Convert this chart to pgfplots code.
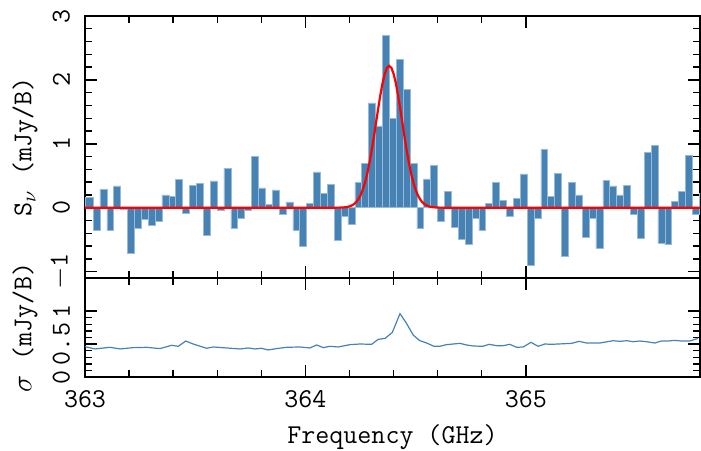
\documentclass[border=0pt]{standalone}
\usepackage{fontspec}
\usepackage{pgfplots}
\pgfplotsset{compat=1.18}
\definecolor{steel}{RGB}{70,130,180}
\newcommand{\tfont}{\fontsize{13.6}{16}\selectfont\ttfamily}
\begin{document}
\begin{tikzpicture}
\pgfplotsset{
  every axis/.append style={
    scale only axis, width=307.5pt, xmin=363, xmax=365.79,
    enlargelimits=false,
    axis line style={line width=0.9pt},
    major tick length=6pt, minor tick length=3.3pt,
    every tick/.style={black, line width=0.7pt},
    xtick={363,364,365}, minor x tick num=4, minor y tick num=4,
    yticklabel style={rotate=90, anchor=south, yshift=4pt, font=\tfont},
    xticklabel style={yshift=-3pt, font=\tfont},
    every axis y label/.style={at={(axis description cs:0,0.5)}, xshift=-30pt, rotate=90, anchor=center, font=\tfont},
    every axis x label/.style={at={(axis description cs:0.5,0)}, yshift=-30pt, anchor=center, font=\tfont},
  }
}
\begin{axis}[at={(0,0)}, anchor=south west, height=49.5pt,
  ymin=0, ymax=1.5, ytick={0,0.5,1}, yticklabels={0,0.5,1},
  xticklabels={363,364,365},
  xlabel={Frequency (GHz)}, ylabel={$\sigma$ (mJy/B)}]
\addplot[steel, line width=0.6pt] coordinates {
(363.000,0.46) (363.045,0.425) (363.113,0.45) (363.159,0.425) (363.219,0.445) (363.280,0.45) (363.340,0.43) (363.393,0.48) (363.423,0.465) (363.457,0.545) (363.491,0.50) (363.552,0.435) (363.582,0.455) (363.643,0.44) (363.703,0.425) (363.741,0.44) (363.771,0.425) (363.801,0.435) (363.831,0.41) (363.869,0.43) (363.915,0.45) (363.975,0.455) (364.020,0.44) (364.051,0.485) (364.081,0.445) (364.111,0.465) (364.149,0.455) (364.202,0.49) (364.247,0.50) (364.300,0.495) (364.330,0.57) (364.361,0.585) (364.394,0.675) (364.429,0.96) (364.459,0.81) (364.489,0.635) (364.519,0.55) (364.550,0.515) (364.583,0.465) (364.610,0.465) (364.640,0.49) (364.701,0.51) (364.731,0.485) (364.761,0.47) (364.804,0.465) (364.834,0.495) (364.867,0.475) (364.897,0.475) (364.927,0.495) (364.958,0.45) (364.988,0.455) (365.023,0.525) (365.056,0.465) (365.086,0.50) (365.116,0.495) (365.147,0.50) (365.207,0.51) (365.242,0.54) (365.275,0.515) (365.336,0.515) (365.396,0.55) (365.426,0.54) (365.457,0.55) (365.487,0.535) (365.517,0.545) (365.547,0.535) (365.585,0.515) (365.615,0.545) (365.645,0.545) (365.676,0.555) (365.706,0.545) (365.744,0.545) (365.781,0.585)
};
\end{axis}
\begin{axis}[at={(0,49.5pt)}, anchor=south west, height=131pt,
  ymin=-1.1, ymax=3, ytick={-1,0,1,2,3}, yticklabels={$-$1,0,1,2,3},
  xticklabels={},
  ylabel={S$_\nu$ (mJy/B)}]
\addplot[ybar interval, fill=steel, draw=steel!55!white, line width=0.3pt] coordinates {
(363.0000,0.16) (363.0368,-0.36) (363.0680,0.29) (363.0993,-0.36) (363.1305,0.34) (363.1618,-0.03) (363.1930,-0.72) (363.2243,-0.33) (363.2555,-0.18) (363.2868,-0.28)
(363.3180,-0.21) (363.3493,0.20) (363.3805,0.18) (363.4118,0.44) (363.4430,-0.09) (363.4743,0.35) (363.5055,0.38) (363.5368,-0.43) (363.5680,0.42) (363.5993,-0.04)
(363.6305,0.61) (363.6618,-0.33) (363.6930,-0.17) (363.7243,-0.04) (363.7555,0.80) (363.7868,0.31) (363.8180,0.05) (363.8493,0.28) (363.8805,-0.11) (363.9118,0.09)
(363.9430,-0.35) (363.9743,-0.61) (364.0055,0.07) (364.0368,0.56) (364.0680,0.22) (364.0993,0.36) (364.1305,-0.51) (364.1618,-0.14) (364.1930,-0.26) (364.2243,0.39)
(364.2555,0.69) (364.2868,1.64) (364.3180,1.28) (364.3493,2.70) (364.3805,1.40) (364.4118,2.32) (364.4430,1.85) (364.4743,0.69) (364.5055,-0.33) (364.5368,0.45)
(364.5680,0.66) (364.5993,-0.22) (364.6305,0.26) (364.6618,-0.30) (364.6930,-0.49) (364.7243,-0.57) (364.7555,-0.17) (364.7868,-0.36) (364.8180,0.07) (364.8493,0.39)
(364.8805,0.12) (364.9118,-0.13) (364.9430,0.15) (364.9743,0.53) (365.0055,-0.90) (365.0368,-0.17) (365.0680,0.91) (365.0993,0.18) (365.1305,0.54) (365.1618,-0.76)
(365.1930,0.39) (365.2243,0.20) (365.2555,-0.47) (365.2868,-0.16) (365.3180,-0.63) (365.3493,0.43) (365.3805,0.34) (365.4118,0.20) (365.4430,0.35) (365.4743,-0.10)
(365.5055,-0.48) (365.5368,0.86) (365.5680,0.98) (365.5993,-0.56) (365.6305,-0.58) (365.6618,0.10) (365.6930,0.25) (365.7243,0.82) (365.7555,-0.10) (365.7868,0.23)
(365.8180,0)
};
\addplot[red, line width=1.1pt] coordinates {
(363.00,0) (364.12,0) (364.14,0.001) (364.16,0.002) (364.18,0.007) (364.19,0.012) (364.20,0.021) (364.21,0.035) (364.22,0.056) (364.23,0.088) (364.24,0.133) (364.25,0.196) (364.26,0.281) (364.27,0.390) (364.28,0.528) (364.29,0.694) (364.30,0.885) (364.31,1.098) (364.32,1.324) (364.33,1.550) (364.34,1.764) (364.35,1.951) (364.36,2.096) (364.37,2.188) (364.38,2.22)
(364.39,2.188) (364.40,2.096) (364.41,1.951) (364.42,1.764) (364.43,1.550) (364.44,1.324) (364.45,1.098) (364.46,0.885) (364.47,0.694) (364.48,0.528) (364.49,0.390) (364.50,0.281) (364.51,0.196) (364.52,0.133) (364.53,0.088) (364.54,0.056) (364.55,0.035) (364.56,0.021) (364.57,0.012) (364.58,0.007) (364.60,0.002) (364.62,0.001) (364.64,0) (365.79,0)
};
\end{axis}
\pgfresetboundingbox
\path (-42.5pt,-36.5pt) rectangle (308pt,188.5pt);
\end{tikzpicture}
\end{document}
